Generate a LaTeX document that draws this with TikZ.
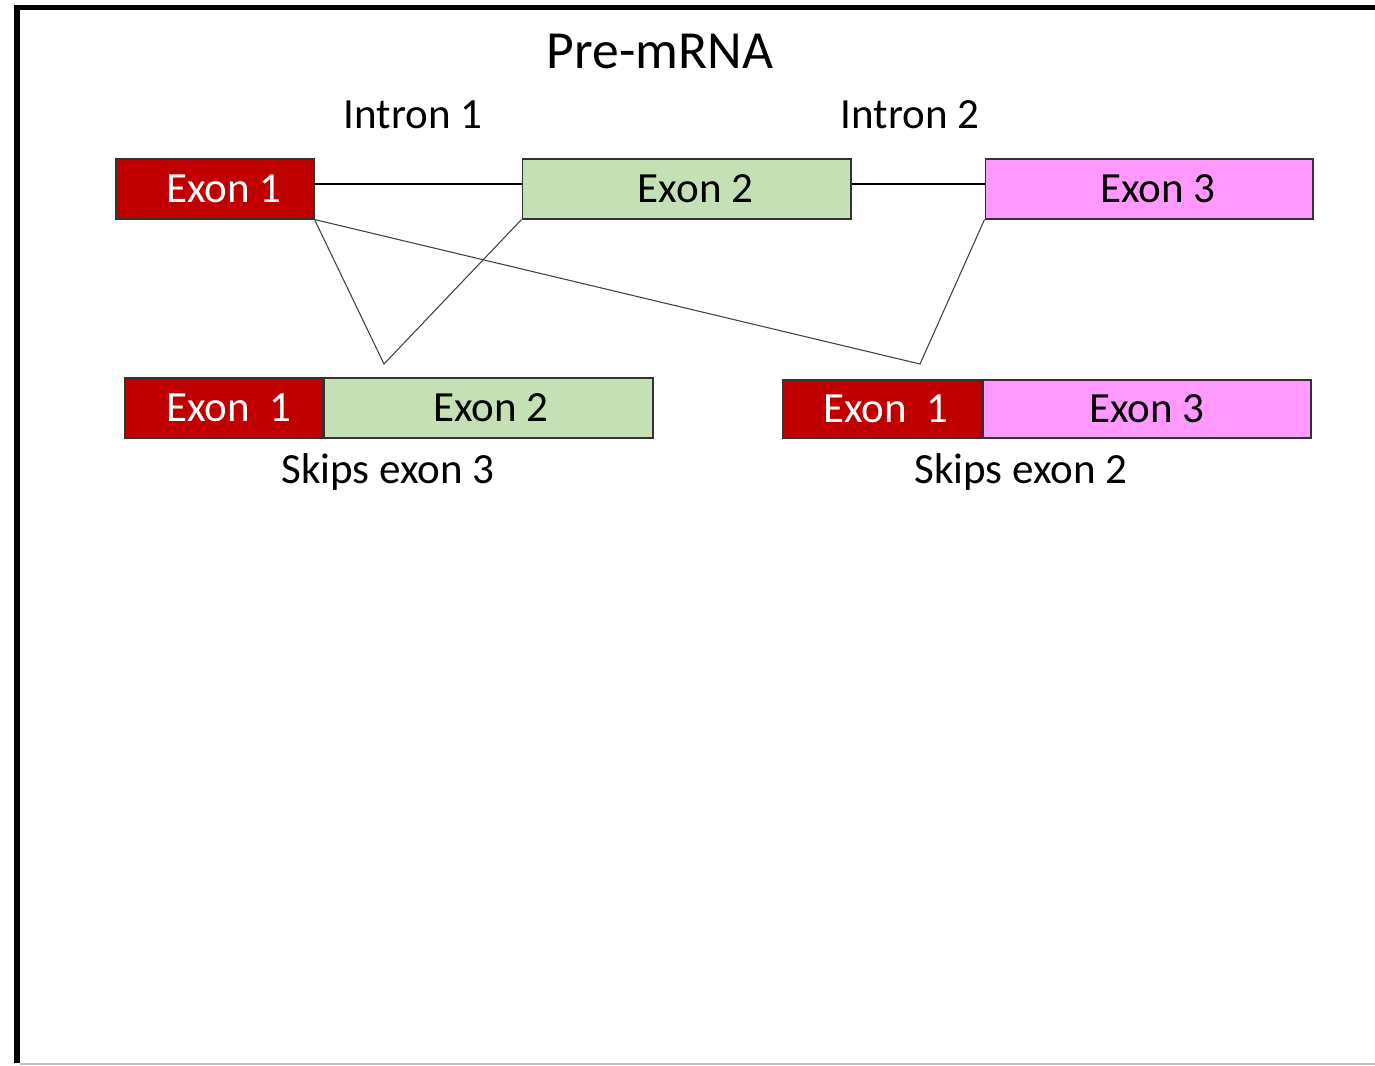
\documentclass[tikz,border=0pt]{standalone}
\usepackage{fontspec}
\setmainfont{Carlito}
\usepackage{tikz}
\usetikzlibrary{calc}
\definecolor{exonred}{HTML}{C00000}
\definecolor{exongreen}{HTML}{C5E0B4}
\definecolor{exonpink}{HTML}{FF99FF}

\begin{document}
\begin{tikzpicture}[x=0.02cm,y=-0.02cm,
  exonbox/.style={draw=black!80,line width=0.6pt,minimum height=1.2cm,inner sep=0pt,font=\fontsize{24.5}{28}\selectfont},
  redbox/.style={exonbox,fill=exonred,text=white},
  greenbox/.style={exonbox,fill=exongreen},
  pinkbox/.style={exonbox,fill=exonpink},
  toprow/.style={execute at begin node={\hspace*{0.36cm}}},
  lbl/.style={font=\fontsize{24.5}{28}\selectfont,inner sep=0pt},
  splice/.style={draw=black!75,line width=0.6pt}]
\useasboundingbox (0,0) rectangle (1375,1065);
\fill[white] (0,0) rectangle (1375,1065);
% frame
\draw[black,line width=3.4pt] (17,1063) -- (17,7.5) -- (1375,7.5);
\draw[black!25,line width=0.6pt] (20,1064) -- (1375,1064);
% titles
\node[inner sep=0pt,font=\fontsize{30.5}{34}\selectfont] (title) at (660,51) {Pre-mRNA};
\node[lbl] (in1) at (413,115) {Intron 1};
\node[lbl] (in2) at (910,115) {Intron 2};
% pre-mRNA
\node[redbox,toprow,minimum width=3.96cm] (ex1) at (215,189) {Exon 1};
\node[greenbox,toprow,minimum width=6.58cm] (ex2) at (686.5,189) {Exon 2};
\node[pinkbox,toprow,minimum width=6.56cm] (ex3) at (1149,189) {Exon 3};
\draw[black,line width=1.2pt] ($(ex1.east)+(0,-5)$) -- ($(ex2.west)+(0,-5)$);
\draw[black,line width=1.2pt] ($(ex2.east)+(0,-5)$) -- ($(ex3.west)+(0,-5)$);
% spliced products
\node[redbox,minimum width=3.96cm] (a1) at (224,408) {\hspace*{0.2cm}Exon~~1};
\node[greenbox,minimum width=6.58cm,anchor=west] (a2) at (a1.east) {\hspace*{0.1cm}Exon 2};
\node[lbl] (sk3) at (388,472) {Skips exon 3};
\node[redbox,minimum width=4cm,minimum height=1.16cm] (b1) at (882,409) {\hspace*{0.16cm}Exon~~1};
\node[pinkbox,minimum width=6.56cm,minimum height=1.16cm,anchor=west] (b3) at (b1.east) {Exon 3};
\node[lbl] (sk2) at (1021,472) {Skips exon 2};
% splice lines
\coordinate (v1) at (384,364);
\coordinate (v2) at (920,364);
\draw[splice] (ex1.south east) -- (v1) -- (ex2.south west);
\draw[splice] (ex1.south east) -- (v2) -- (ex3.south west);
\end{tikzpicture}
\end{document}
